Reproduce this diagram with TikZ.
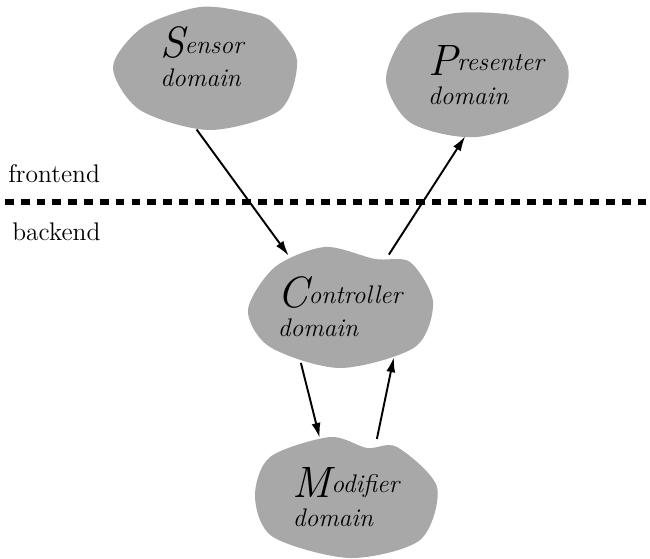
\documentclass[tikz,border=0pt]{standalone}
\usetikzlibrary{shapes,arrows.meta,positioning,calc,backgrounds}

\newcommand{\domname}[2]{{\fontsize{25}{25}\selectfont #1}\raisebox{2.5pt}{#2}}

\begin{document}
\begin{tikzpicture}[
    dombox/.style={ellipse,minimum width=3.7cm,minimum height=2.45cm,inner sep=0pt,align=left,font=\itshape\fontsize{14.5}{16.5}\selectfont},
    blobfill/.style={fill=black!34},
    flow/.style={-{Latex[length=3mm,width=1.8mm]},line width=1.1pt},
    side/.style={font=\fontsize{14.5}{18}\selectfont,anchor=base west,inner sep=0pt}
]
    \useasboundingbox (0,0) rectangle (13,11.16);

    % Four domains
    \node[dombox,text depth=0.45cm] (sensor) at (4.04,9.80) {\domname{S}{ensor}\\domain};
    \node[dombox] (presenter) at (9.52,9.66) {\hspace*{0.4cm}\domname{P}{resenter}\\\hspace*{0.4cm}domain};
    \node[dombox] (controller) at (6.80,5.02) {\domname{C}{ontroller}\\domain};
    \node[dombox] (modifier) at (6.92,1.22) {\domname{M}{odifier}\\domain};

    % Blobs behind them
    \begin{scope}[on background layer]
        \fill[blobfill,shift={(sensor)}] plot[smooth cycle] coordinates
            {(-1.78,0.02) (-1.18,0.82) (-0.04,1.22) (0.96,1.1) (1.42,0.9) (1.9,0.16) (1.56,-0.84) (0.16,-1.24) (-1.24,-0.84)};
        \fill[blobfill,shift={(presenter)}] plot[smooth cycle] coordinates
            {(-1.8,-0.1) (-1.38,0.84) (-0.4,1.24) (1.1,1.1) (1.84,0.16) (1.52,-0.7) (0.02,-1.24) (-1.3,-0.96)};
        \fill[blobfill,shift={(controller)}] plot[smooth cycle] coordinates
            {(-0.3,1.2) (0.7,0.96) (1.4,0.9) (1.86,0.1) (1.5,-0.8) (0,-1.22) (-1.4,-0.8) (-1.84,-0.06) (-1.3,0.8)};
        \fill[blobfill,shift={(modifier)}] plot[smooth cycle] coordinates
            {(-0.32,1.2) (0.42,0.98) (1.02,1.0) (1.82,0.2) (1.48,-0.86) (0.08,-1.22) (-1.46,-0.8) (-1.82,0) (-1.52,0.8)};
    \end{scope}

    % Frontend / backend split
    \node[side] (front) at (0.16,7.52) {frontend};
    \node[side] (back) at (0.24,6.36) {backend};
    \coordinate (splitl) at (0.1,7.12);
    \coordinate (splitr) at (13,7.12);
    \draw[line width=3.4pt,dash pattern=on 5pt off 4pt] (splitl) -- (splitr);

    % Arrows
    \draw[flow] (sensor.-95) -- (controller.135);
    \draw[flow] (controller.47) -- (presenter.-100);
    \draw[flow] (controller.-125) -- (modifier.114);
    \draw[flow] (modifier.62) -- (controller.-43);
\end{tikzpicture}
\end{document}
